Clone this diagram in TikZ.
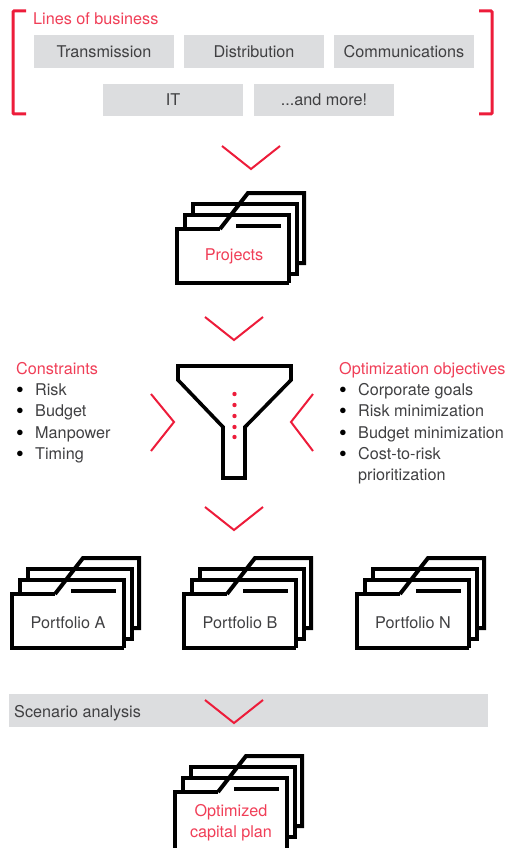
\documentclass[tikz,border=0pt]{standalone}
\usepackage{fontspec}
\setmainfont{TeX Gyre Heros}
\definecolor{main}{RGB}{237,28,58}
\definecolor{second}{RGB}{220,221,223}
\definecolor{third}{RGB}{64,64,66}
\usetikzlibrary{positioning}
\tikzset{
  % line
	cstchev/.style      ={draw=main,line width=2pt,miter limit=10}, % red chevron
	cstbrack/.style     ={draw=main,line width=3pt,rounded corners=1pt},
	cstfold/.style      ={draw=black,line width=4pt,miter limit=10},
  % dot
	cstdot/.style       ={radius=2.2,fill=main},
  % node
	cstbox/.style       ={fill=second,text=third,minimum width=140pt,minimum height=33pt,inner sep=0pt},
	cstred/.style       ={text=main!85,inner sep=0pt,anchor=base west},
	cstitem/.style      ={text=third,inner sep=0pt,anchor=base west},
	cstbull/.style      ={text=black,inner sep=0pt,anchor=base,font=\fontsize{22}{22}\selectfont},
	cstlabel/.style     ={text=main!85,inner sep=0pt,align=center}
}
% folder stack: x, y of the front tab corner, depth of the front sheet
\newcommand{\cstfolder}[3]{
	\begin{scope}[shift={(#1,#2)}]
		\draw[cstfold] (8,0)--(8,-14)--(112,-14)--(112,#3);
		\draw[cstfold] (16,-14)--(16,-25)--(120,-25)--(120,45)--(112,45);
		\draw[cstfold] (43,0)--(71,-36)--(127,-36)--(127,34)--(120,34);
		\draw[cstfold] (-2,0)--(43,0);
		\draw[cstfold] (0,0)--(0,#3)--(112,#3);
		\draw[cstfold] (59,-3)--(104,-3);
	\end{scope}
}
\begin{document}
\begin{tikzpicture}[x=1pt,y=-1pt,font=\fontsize{16.2}{19}\selectfont]
	\useasboundingbox (0,0) rectangle (505,848);
	\begin{scope}
		\clip (0,0) rectangle (505,848);
		% lines of business
		\draw[cstbrack] (26,11)--(13,11)--(13,114)--(26,114);
		\draw[cstbrack] (479,11)--(492,11)--(492,114)--(479,114);
		\node[cstred] (lines) at (33,24.5) {Lines of business};
		\node[cstbox] (trans) at (104,51.5) {Transmission};
		\node[cstbox] (distr) at (254,51.5) {Distribution};
		\node[cstbox] (comm) at (404,51.5) {Communications};
		\node[cstbox,minimum height=32pt] (it) at (173,100) {IT};
		\node[cstbox,minimum height=32pt] (more) at (324,100) {...and more!};
		% chevrons
		\foreach \x/\y in {251/146,234/317,234/507}
			\draw[cstchev] (\x-29,\y)--(\x,\y+23)--(\x+29,\y);
		\draw[cstchev] (151,394)--(174,422)--(151,451);
		\draw[cstchev] (313,394)--(291,422)--(313,451);
		% projects
		\cstfolder{177}{229}{54}
		\node[cstlabel] (proj) at (234,256.5) {Projects};
		% funnel
		\draw[cstfold,line width=3.6pt] (178,366)--(291,366)--(291,380)--(245,427)--(245,478)--(223,478)--(223,427)--(178,380)--cycle;
		\foreach \y in {394,405,416,427,437}
			\fill[cstdot] (234.5,\y) circle;
		% constraints
		\node[cstred] (cons) at (16,374.2) {Constraints};
		\foreach \i/\y/\t in {1/395.2/Risk,2/416.7/Budget,3/438.2/Manpower,4/459.2/Timing}{
			\node[cstbull] (consb\i) at (20,\y+2) {•};
			\node[cstitem] (cons\i) at (35,\y) {\t};
		}
		% objectives
		\node[cstred] (obj) at (339,374.2) {Optimization objectives};
		\foreach \i/\y/\t in {1/395.2/Corporate goals,2/416.7/Risk minimization,3/438.2/Budget minimization,4/459.2/Cost-to-risk}{
			\node[cstbull] (objb\i) at (343,\y+2) {•};
			\node[cstitem] (obj\i) at (358,\y) {\t};
		}
		\node[cstitem] (obj5) at (358,480.2) {prioritization};
		% portfolios
		\foreach \x/\t/\n in {12/A/a,184/B/b,357/N/n}{
			\cstfolder{\x}{594}{54}
			\node[cstlabel,text=third] (port\n) at (\x+56,623) {Portfolio \t};
		}
		% scenario
		\node[fill=second,minimum width=479pt,minimum height=33pt,inner sep=0pt] (scen) at (248.5,710.5) {};
		\node[cstitem] (scent) at (14,717.2) {Scenario analysis};
		\draw[cstchev] (205,700)--(234,723)--(263,700);
		% plan
		\cstfolder{175}{792}{60}
		\node[cstlabel] (plan) at (231,822.7) {Optimized\\[2pt]capital plan};
	\end{scope}
\end{tikzpicture}
\end{document}
